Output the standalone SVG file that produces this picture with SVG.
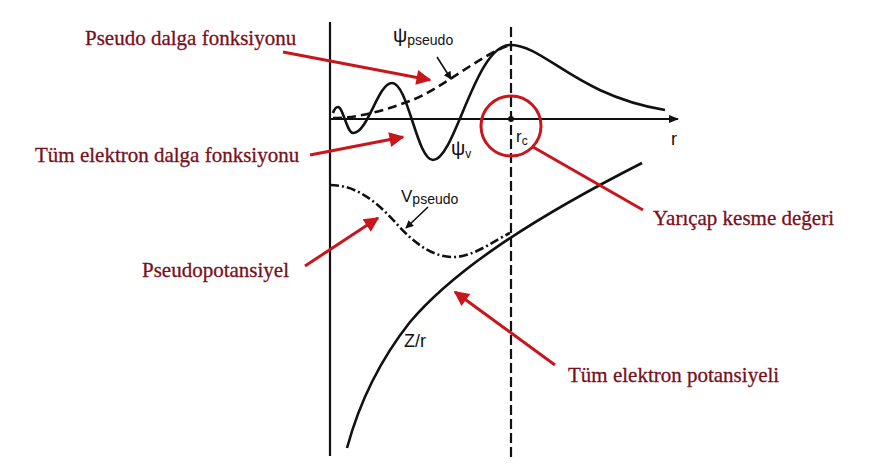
<svg xmlns="http://www.w3.org/2000/svg" width="876" height="473" viewBox="0 0 876 473">
<defs>
<style>
.lbl{font-family:"Liberation Serif","Times New Roman",serif;font-size:21px;fill:#7a0f1c;stroke:#7a0f1c;stroke-width:0.3;}
.sym{font-family:"Liberation Sans",Arial,sans-serif;fill:#111;}
.curve{fill:none;stroke:#111;stroke-width:2.6;}
.red{fill:none;stroke:#c8161d;stroke-width:3;}
</style>
<marker id="ah" viewBox="0 0 10 10" refX="9" refY="5" markerWidth="6" markerHeight="5" orient="auto" markerUnits="strokeWidth">
<path d="M0,0 L10,5 L0,10 z" fill="#c8161d"/>
</marker>
<marker id="bk" viewBox="0 0 10 10" refX="9" refY="5" markerWidth="5" markerHeight="5" orient="auto" markerUnits="strokeWidth">
<path d="M0,0 L10,5 L0,10 z" fill="#111"/>
</marker>
<marker id="ax" viewBox="0 0 10 10" refX="9" refY="5" markerWidth="5" markerHeight="5" orient="auto" markerUnits="strokeWidth">
<path d="M0,1 L10,5 L0,9 z" fill="#111"/>
</marker>
</defs>
<rect width="876" height="473" fill="#fff"/>
<g id="axes">
<line x1="330" y1="22" x2="330" y2="456" stroke="#111" stroke-width="2.2"/>
<line x1="330" y1="119" x2="678" y2="119" stroke="#111" stroke-width="2" marker-end="url(#ax)"/>
<line x1="511" y1="27" x2="511" y2="457" stroke="#111" stroke-width="2.2" stroke-dasharray="10 4"/>
<circle cx="511" cy="119" r="3" fill="#111"/>
<text class="sym" x="671" y="145" font-size="18">r</text>
<text class="sym" x="516" y="142" font-size="17">r<tspan font-size="12" dy="3">c</tspan></text>
</g>
<g id="curves">
<path class="curve" d="M333,113 C334,110 336,107 338,107 C343,107 347,133 353,133 C368,133 378,83 392,83 C408,83 417,160 433,160 C455,160 475,45 510,45 C545,45 575,95 665,110"/>
<path class="curve" stroke-dasharray="9 5" d="M333,118 C360,118 385,110 410,101 C440,90 480,55 510,45"/>
<path class="curve" stroke-width="2.2" stroke-dasharray="9 3 2 3" d="M330,185 C355,185 375,200 395,222 C415,245 435,258 455,257 C475,256 495,240 510,233"/>
<path class="curve" d="M347,448 C360,400 380,360 410,322 C450,275 520,225 642,163"/>
</g>
<g id="math-labels">
<text class="sym" x="393" y="42" font-size="20">ψ<tspan font-size="14" dy="3">pseudo</tspan></text>
<line x1="437" y1="57" x2="451" y2="79" stroke="#111" stroke-width="1.6" marker-end="url(#bk)"/>
<text class="sym" x="451" y="155" font-size="20">ψ<tspan font-size="12" dy="3">v</tspan></text>
<text class="sym" x="401" y="202" font-size="17">V<tspan font-size="14" dy="2">pseudo</tspan></text>
<line x1="428" y1="207" x2="406" y2="228" stroke="#111" stroke-width="1.6" marker-end="url(#bk)"/>
<text class="sym" x="404" y="347" font-size="18">Z/r</text>
</g>
<g id="node-pseudo-dalga">
<text class="lbl" x="85" y="45">Pseudo dalga fonksiyonu</text>
</g>
<g id="node-tum-dalga">
<text class="lbl" x="35" y="162">Tüm elektron dalga fonksiyonu</text>
</g>
<g id="node-pseudopot">
<text class="lbl" x="142" y="277">Pseudopotansiyel</text>
</g>
<g id="node-yaricap">
<circle cx="511" cy="126" r="30" fill="none" stroke="#c8161d" stroke-width="3"/>
<text class="lbl" x="653" y="225">Yarıçap kesme değeri</text>
</g>
<g id="node-tum-pot">
<text class="lbl" x="568" y="382">Tüm elektron potansiyeli</text>
</g>
<g id="connectors">
<line class="red" x1="283" y1="52" x2="430" y2="80" marker-end="url(#ah)"/>
<line class="red" x1="310" y1="155" x2="403" y2="137" marker-end="url(#ah)"/>
<line class="red" x1="305" y1="266" x2="378" y2="218" marker-end="url(#ah)"/>
<line class="red" x1="555" y1="365" x2="455" y2="292" marker-end="url(#ah)"/>
<line class="red" x1="533" y1="147" x2="643" y2="210"/>
</g>
</svg>
